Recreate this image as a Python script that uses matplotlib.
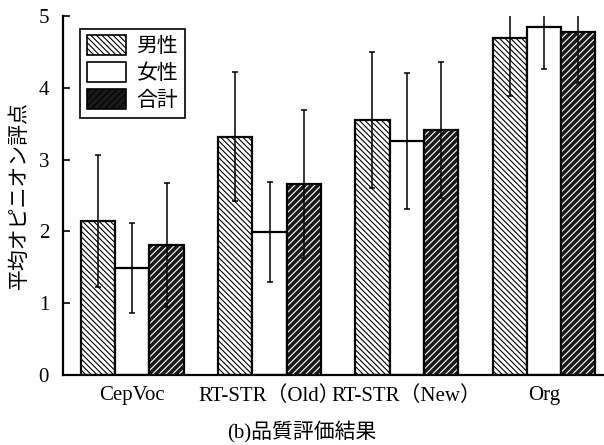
import matplotlib
matplotlib.use("Agg")
import matplotlib.pyplot as plt
import numpy as np
from matplotlib.patches import Patch

categories = ["CepVoc", "RT-STR（Old）", "RT-STR（New）", "Org"]
series_names = ["男性", "女性", "合計"]
male = [2.15, 3.32, 3.55, 4.70]
male_err = [0.92, 0.90, 0.95, 0.82]
female = [1.49, 1.99, 3.26, 4.84]
female_err = [0.63, 0.70, 0.95, 0.58]
total = [1.81, 2.66, 3.41, 4.78]
total_err = [0.86, 1.03, 0.95, 0.71]
yticks = [0, 1, 2, 3, 4, 5]
ylabel = "平均オピニオン評点"
caption = "(b)品質評価結果"

plt.rcParams['hatch.linewidth'] = 0.8
serif = ['Liberation Serif', 'Noto Sans CJK JP']
cjk = ['Noto Sans CJK JP', 'Liberation Serif']

fig = plt.figure(figsize=(6.04, 4.45), dpi=100)
ax = fig.add_axes([63/604, 70/445, 541/604, 359/445])

x = np.arange(len(categories)) * 4.0
w = 1.0
male_hatch = '\\' * 6
total_hatch = '/' * 5

# male: light, dense backslash hatch
ax.bar(x - w, male, w, facecolor='white', edgecolor='black', hatch=male_hatch, linewidth=0)
ax.bar(x - w, male, w, facecolor='none', edgecolor='black', linewidth=1.6)
# female: white
ax.bar(x, female, w, facecolor='white', edgecolor='black', linewidth=1.6)
# total: dark with white hatch
ax.bar(x + w, total, w, facecolor='#1a1a1a', edgecolor='white', hatch=total_hatch, linewidth=0)
ax.bar(x + w, total, w, facecolor='none', edgecolor='black', linewidth=1.6)

ekw = dict(fmt='none', ecolor='black', elinewidth=1.1, capsize=2.5, capthick=1.1)
ax.errorbar(x - w, male, yerr=male_err, **ekw)
ax.errorbar(x, female, yerr=female_err, **ekw)
ax.errorbar(x + w, total, yerr=total_err, **ekw)

ax.set_xlim(-2.02, 13.75)
ax.set_ylim(0, 5)
ax.set_yticks(yticks)
ax.set_yticklabels([str(t) for t in yticks], family=serif, fontsize=15)
ax.set_xticks(x)
ax.set_xticklabels(categories, family=serif, fontsize=15)
ax.tick_params(axis='y', direction='in', length=5, width=1.2, pad=10)
ax.tick_params(axis='x', length=0, pad=8)
for s in ['top', 'right']:
    ax.spines[s].set_visible(False)
ax.spines['left'].set_linewidth(1.6)
ax.spines['bottom'].set_linewidth(1.6)

ax.set_ylabel(ylabel, family=cjk, fontsize=15, labelpad=6)

handles = [
    Patch(facecolor='white', edgecolor='black', hatch=male_hatch, linewidth=1.2),
    Patch(facecolor='white', edgecolor='black', linewidth=1.2),
    Patch(facecolor='#1a1a1a', edgecolor='black', hatch=total_hatch, linewidth=1.2),
]
leg = ax.legend(handles, series_names, loc='upper left', bbox_to_anchor=(0.032, 0.965),
                prop={'family': cjk, 'size': 15}, frameon=True, fancybox=False,
                edgecolor='black', framealpha=1, handlelength=1.9, handleheight=1.1,
                borderpad=0.3, labelspacing=0.25, handletextpad=0.5, borderaxespad=0)
leg.get_frame().set_linewidth(1.2)

fig.text(0.5, 1 - 432/445, caption, ha='center', va='center', family=serif, fontsize=15)

fig.savefig('out.png', dpi=100)
